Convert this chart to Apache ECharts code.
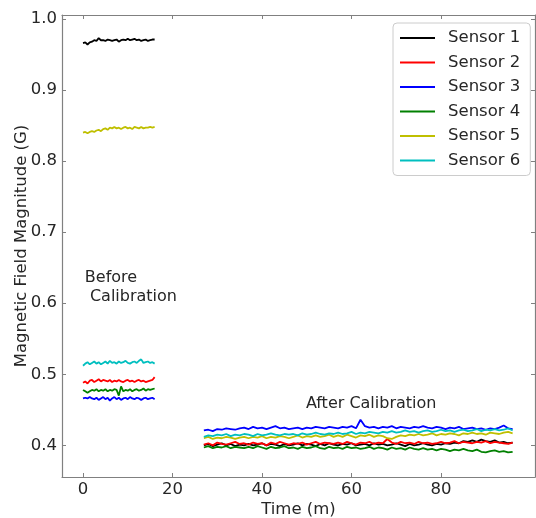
<!DOCTYPE html>
<html>
<head>
<meta charset="utf-8">
<script src="https://cdn.jsdelivr.net/npm/echarts@6/dist/echarts.min.js"></script>
<style>html,body{margin:0;padding:0;background:#fff}#c{width:536px;height:518px}</style>
</head>
<body>
<div id="c"></div>
<script>
const sensorNames = ['Sensor 1','Sensor 2','Sensor 3','Sensor 4','Sensor 5','Sensor 6'];
const sensorColors = ['#000000','#ff0000','#0000ff','#008000','#bfbf00','#00bfbf'];
const xTicks = [0,20,40,60,80];
const yTicks = [0.4,0.5,0.6,0.7,0.8,0.9,1.0];

const beforeTimes = [0,0.5,1,1.5,2,2.5,3,3.5,4,4.5,5,5.5,6,6.5,7,7.5,8,8.5,9,9.5,10,10.5,11,11.5,12,12.5,13,13.5,14,14.5,15,15.5,16];
const afterTimes = [27,28,29,30,31,32,33,34,35,36,37,38,39,40,41,42,43,44,45,46,47,48,49,50,51,52,53,54,55,56,57,58,59,60,61,62,63,64,65,66,67,68,69,70,71,72,73,74,75,76,77,78,79,80,81,82,83,84,85,86,87,88,89,90,91,92,93,94,95,96];

const s1Before = [0.966,0.967,0.964,0.967,0.968,0.970,0.969,0.973,0.970,0.970,0.969,0.971,0.970,0.969,0.970,0.971,0.968,0.970,0.971,0.970,0.972,0.970,0.971,0.972,0.970,0.971,0.969,0.970,0.971,0.969,0.970,0.971,0.971];
const s2Before = [0.488,0.490,0.487,0.491,0.492,0.489,0.491,0.493,0.490,0.492,0.491,0.490,0.492,0.489,0.491,0.490,0.492,0.490,0.489,0.491,0.492,0.490,0.491,0.489,0.491,0.492,0.490,0.491,0.489,0.490,0.491,0.492,0.496];
const s3Before = [0.466,0.467,0.466,0.468,0.466,0.465,0.467,0.464,0.466,0.468,0.465,0.467,0.463,0.466,0.468,0.465,0.467,0.464,0.466,0.467,0.465,0.468,0.466,0.465,0.467,0.466,0.464,0.466,0.467,0.465,0.466,0.467,0.465];
const s4Before = [0.478,0.476,0.474,0.476,0.478,0.477,0.479,0.476,0.478,0.477,0.479,0.476,0.478,0.477,0.479,0.478,0.470,0.483,0.476,0.478,0.477,0.479,0.476,0.478,0.479,0.477,0.478,0.480,0.477,0.479,0.478,0.479,0.480];
const s5Before = [0.840,0.841,0.839,0.841,0.842,0.841,0.843,0.844,0.842,0.845,0.846,0.844,0.847,0.846,0.848,0.846,0.847,0.845,0.847,0.848,0.846,0.847,0.845,0.848,0.847,0.846,0.848,0.846,0.847,0.847,0.848,0.847,0.848];
const s6Before = [0.512,0.515,0.517,0.514,0.516,0.518,0.515,0.517,0.514,0.516,0.518,0.515,0.519,0.516,0.517,0.515,0.518,0.516,0.517,0.519,0.516,0.515,0.517,0.518,0.516,0.519,0.521,0.516,0.517,0.518,0.516,0.517,0.515];

const s1After = [0.400,0.402,0.399,0.401,0.403,0.400,0.402,0.399,0.401,0.400,
  0.402,0.400,0.401,0.403,0.400,0.402,0.401,0.399,0.402,0.400,
  0.401,0.403,0.400,0.402,0.401,0.399,0.402,0.400,0.403,0.401,
  0.400,0.402,0.401,0.403,0.400,0.401,0.402,0.400,0.403,0.401,
  0.402,0.400,0.401,0.403,0.401,0.399,0.402,0.400,0.401,0.403,
  0.401,0.400,0.402,0.401,0.403,0.402,0.404,0.403,0.406,0.405,
  0.407,0.405,0.408,0.406,0.405,0.407,0.404,0.405,0.403,0.404];
const s2After = [0.401,0.403,0.400,0.404,0.402,0.401,0.403,0.405,0.402,0.403,
  0.401,0.404,0.402,0.403,0.400,0.404,0.402,0.405,0.403,0.401,
  0.403,0.402,0.404,0.401,0.403,0.405,0.402,0.404,0.403,0.402,
  0.404,0.402,0.405,0.403,0.401,0.404,0.403,0.405,0.402,0.404,
  0.403,0.409,0.404,0.402,0.405,0.403,0.404,0.402,0.405,0.403,
  0.404,0.402,0.403,0.405,0.403,0.404,0.406,0.403,0.405,0.404,
  0.403,0.405,0.404,0.406,0.403,0.405,0.404,0.403,0.402,0.404];
const s3After = [0.421,0.422,0.420,0.423,0.422,0.424,0.423,0.422,0.424,0.425,
  0.423,0.426,0.424,0.425,0.423,0.425,0.427,0.424,0.425,0.423,
  0.424,0.425,0.423,0.425,0.424,0.426,0.425,0.424,0.426,0.425,
  0.424,0.426,0.425,0.427,0.424,0.436,0.427,0.425,0.426,0.424,
  0.426,0.425,0.427,0.424,0.426,0.425,0.424,0.426,0.425,0.427,
  0.425,0.424,0.426,0.425,0.423,0.425,0.424,0.426,0.423,0.424,
  0.425,0.423,0.424,0.422,0.424,0.423,0.425,0.428,0.424,0.423];
const s4After = [0.397,0.399,0.396,0.398,0.397,0.399,0.396,0.398,0.397,0.396,
  0.398,0.396,0.399,0.397,0.395,0.398,0.396,0.397,0.399,0.396,
  0.397,0.395,0.398,0.396,0.397,0.399,0.396,0.395,0.398,0.396,
  0.397,0.395,0.398,0.396,0.397,0.395,0.396,0.398,0.395,0.397,
  0.396,0.394,0.397,0.395,0.396,0.394,0.397,0.395,0.394,0.396,
  0.394,0.395,0.393,0.395,0.394,0.392,0.394,0.393,0.395,0.393,
  0.392,0.394,0.391,0.390,0.392,0.393,0.391,0.392,0.390,0.391];
const s5After = [0.410,0.412,0.409,0.411,0.410,0.412,0.411,0.409,0.411,0.412,
  0.410,0.412,0.411,0.413,0.410,0.412,0.411,0.413,0.412,0.410,
  0.412,0.414,0.411,0.413,0.412,0.414,0.412,0.413,0.415,0.412,
  0.414,0.412,0.415,0.413,0.411,0.414,0.413,0.415,0.412,0.414,
  0.413,0.410,0.409,0.412,0.414,0.413,0.415,0.414,0.416,0.414,
  0.415,0.417,0.414,0.416,0.415,0.417,0.416,0.414,0.417,0.416,
  0.418,0.416,0.417,0.415,0.418,0.417,0.416,0.418,0.419,0.417];
const s6After = [0.412,0.414,0.413,0.415,0.414,0.416,0.413,0.415,0.414,0.416,
  0.415,0.413,0.416,0.414,0.415,0.417,0.415,0.414,0.416,0.415,
  0.416,0.414,0.417,0.415,0.416,0.418,0.416,0.415,0.417,0.416,
  0.418,0.416,0.417,0.419,0.416,0.418,0.417,0.419,0.418,0.417,
  0.419,0.418,0.420,0.418,0.419,0.421,0.419,0.420,0.418,0.420,
  0.421,0.419,0.420,0.422,0.420,0.421,0.419,0.421,0.422,0.420,
  0.421,0.423,0.420,0.422,0.421,0.423,0.421,0.422,0.424,0.421];

const beforeData = [s1Before,s2Before,s3Before,s4Before,s5Before,s6Before];
const afterData = [s1After,s2After,s3After,s4After,s5After,s6After];

const FONT = 'DejaVu Sans';
const TXT = '#262626';
const SPINE = '#808080';

const chart = echarts.init(document.getElementById('c'), null, {renderer:'canvas'});

function pairs(ts, vs){ return ts.map((t,i)=>[t, vs[i]]); }

const series = [];
sensorNames.forEach((name, i) => {
  series.push({
    name, type:'line', showSymbol:false, symbol:'none', animation:false,
    lineStyle:{color:sensorColors[i], width:1.8}, itemStyle:{color:sensorColors[i]},
    data: pairs(beforeTimes, beforeData[i])
  });
});
sensorNames.forEach((name, i) => {
  series.push({
    name, type:'line', showSymbol:false, symbol:'none', animation:false,
    lineStyle:{color:sensorColors[i], width:1.8}, itemStyle:{color:sensorColors[i]},
    data: pairs(afterTimes, afterData[i])
  });
});
series[0].markPoint = {
  symbol:'circle', symbolSize:0, animation:false,
  label:{show:true, position:'right', distance:0, color:TXT, fontFamily:FONT, fontSize:16, lineHeight:19, align:'left'},
  data:[
    {coord:[0.4, 0.6225], value:0, label:{formatter:'Before\n Calibration'}},
    {coord:[49.8, 0.459], value:0, label:{formatter:'After Calibration'}}
  ]
};

const xMin = -4.7, xMax = 101, yMin = 0.3555, yMax = 1.0055;

const option = {
  animation:false,
  backgroundColor:'#ffffff',
  grid:{left:62, right:1, top:15, bottom:41, show:false, containLabel:false, outerBoundsMode:'none'},
  legend:{
    data: sensorNames.map(n=>({name:n, icon:'rect'})),
    orient:'vertical', left:393, top:23,
    itemWidth:35, itemHeight:2, itemGap:6.5,
    padding:[6,10,6,7],
    borderColor:'#cccccc', borderWidth:1, borderRadius:4,
    textStyle:{color:TXT, fontFamily:FONT, fontSize:16.5, lineHeight:18, padding:[0,0,0,8]}
  },
  xAxis:[
    {type:'value', min:xMin, max:xMax, position:'bottom',
     name:'Time (m)', nameLocation:'middle', nameGap:24, nameMoveOverlap:false,
     nameTextStyle:{color:TXT, fontFamily:FONT, fontSize:16.5},
     axisLine:{show:true, onZero:false, lineStyle:{color:SPINE, width:1.2}},
     axisTick:{show:true, inside:true, length:4, customValues:xTicks, lineStyle:{color:SPINE}},
     axisLabel:{show:true, customValues:xTicks, margin:4, color:TXT, fontFamily:FONT, fontSize:16.5},
     splitLine:{show:false}},
    {type:'value', min:xMin, max:xMax, position:'top',
     axisLine:{show:true, onZero:false, lineStyle:{color:SPINE, width:1.2}},
     axisTick:{show:true, inside:true, length:4, customValues:xTicks, lineStyle:{color:SPINE}},
     axisLabel:{show:false}, splitLine:{show:false}}
  ],
  yAxis:[
    {type:'value', min:yMin, max:yMax, position:'left',
     name:'Magnetic Field Magnitude (G)', nameLocation:'middle', nameGap:32, nameMoveOverlap:false,
     nameTextStyle:{color:TXT, fontFamily:FONT, fontSize:16.5},
     axisLine:{show:true, onZero:false, lineStyle:{color:SPINE, width:1.2}},
     axisTick:{show:true, inside:true, length:4, customValues:yTicks, lineStyle:{color:SPINE}},
     axisLabel:{show:true, customValues:yTicks, margin:5, color:TXT, fontFamily:FONT, fontSize:16.5,
       formatter:(v)=>Number(v).toFixed(1)},
     splitLine:{show:false}},
    {type:'value', min:yMin, max:yMax, position:'right',
     axisLine:{show:true, onZero:false, lineStyle:{color:SPINE, width:1.2}},
     axisTick:{show:true, inside:true, length:4, customValues:yTicks, lineStyle:{color:SPINE}},
     axisLabel:{show:false}, splitLine:{show:false}}
  ],
  series
};
chart.setOption(option);
</script>
</body>
</html>
